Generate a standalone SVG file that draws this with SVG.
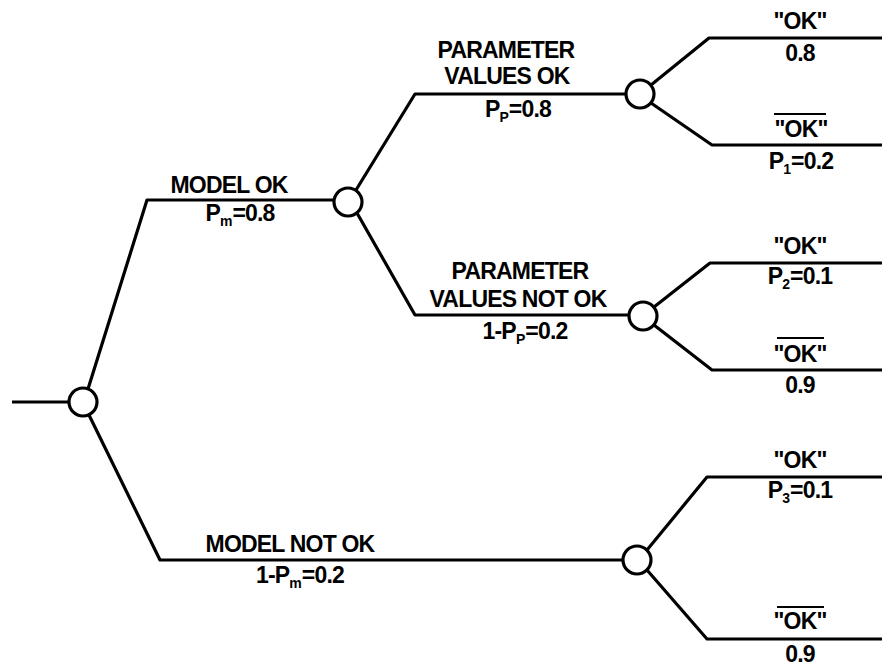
<svg xmlns="http://www.w3.org/2000/svg" width="882" height="668" viewBox="0 0 882 668">
<style>
.ln{fill:none;stroke:#000;stroke-width:3.2;stroke-linejoin:round;stroke-linecap:butt}
.nd{fill:#fff;stroke:#000;stroke-width:3.2}
.t{font-family:"Liberation Sans",Arial,Helvetica,sans-serif;font-weight:bold;font-size:23px;letter-spacing:-0.8px;fill:#000;text-anchor:middle}
.s{font-size:14px;letter-spacing:0}
.ov{stroke:#000;stroke-width:2}
</style>
<rect width="882" height="668" fill="#fff"/>
<g id="connectors">
<path class="ln" d="M12,402 H69"/>
<path class="ln" d="M88,389 L147,200 H334"/>
<path class="ln" d="M89,415 L160,560 H623"/>
<path class="ln" d="M356,190 L415,94 H626"/>
<path class="ln" d="M357,213 L415,315 H629"/>
<path class="ln" d="M651,85 L709,38 H882"/>
<path class="ln" d="M651,103 L712,145 H882"/>
<path class="ln" d="M654,307 L710,263 H882"/>
<path class="ln" d="M654,325 L712,370 H882"/>
<path class="ln" d="M647,550 L707,477 H882"/>
<path class="ln" d="M647,570 L707,639 H882"/>
</g>
<g id="root"><circle class="nd" cx="83" cy="402" r="14"/></g>
<g id="model-ok">
<circle class="nd" cx="348" cy="202" r="14"/>
<text class="t" x="229" y="193">MODEL OK</text>
<text class="t" x="240" y="221">P<tspan class="s" dy="5">m</tspan><tspan dy="-5">=0.8</tspan></text>
</g>
<g id="model-not-ok">
<circle class="nd" cx="637" cy="560" r="14"/>
<text class="t" x="290" y="552">MODEL NOT OK</text>
<text class="t" x="300" y="583">1-P<tspan class="s" dy="5">m</tspan><tspan dy="-5">=0.2</tspan></text>
</g>
<g id="param-ok">
<circle class="nd" cx="640" cy="94" r="14"/>
<text class="t" x="506" y="58">PARAMETER</text>
<text class="t" x="507" y="84">VALUES OK</text>
<text class="t" x="518" y="117">P<tspan class="s" dy="5">P</tspan><tspan dy="-5">=0.8</tspan></text>
</g>
<g id="param-not-ok">
<circle class="nd" cx="643" cy="316" r="14"/>
<text class="t" x="520" y="279">PARAMETER</text>
<text class="t" x="518" y="307">VALUES NOT OK</text>
<text class="t" x="525" y="339">1-P<tspan class="s" dy="5">P</tspan><tspan dy="-5">=0.2</tspan></text>
</g>
<g id="out-1-ok">
<text class="t" x="800" y="29">"OK"</text>
<text class="t" x="800" y="61">0.8</text>
</g>
<g id="out-1-notok">
<line class="ov" x1="774" y1="114" x2="826" y2="114"/>
<text class="t" x="801" y="137">"OK"</text>
<text class="t" x="801" y="169">P<tspan class="s" dy="5">1</tspan><tspan dy="-5">=0.2</tspan></text>
</g>
<g id="out-2-ok">
<text class="t" x="800" y="254">"OK"</text>
<text class="t" x="800" y="284">P<tspan class="s" dy="5">2</tspan><tspan dy="-5">=0.1</tspan></text>
</g>
<g id="out-2-notok">
<line class="ov" x1="777" y1="338" x2="824" y2="338"/>
<text class="t" x="800" y="362">"OK"</text>
<text class="t" x="800" y="393">0.9</text>
</g>
<g id="out-3-ok">
<text class="t" x="800" y="468">"OK"</text>
<text class="t" x="800" y="498">P<tspan class="s" dy="5">3</tspan><tspan dy="-5">=0.1</tspan></text>
</g>
<g id="out-3-notok">
<line class="ov" x1="777" y1="607" x2="824" y2="607"/>
<text class="t" x="800" y="629">"OK"</text>
<text class="t" x="800" y="662">0.9</text>
</g>
</svg>
